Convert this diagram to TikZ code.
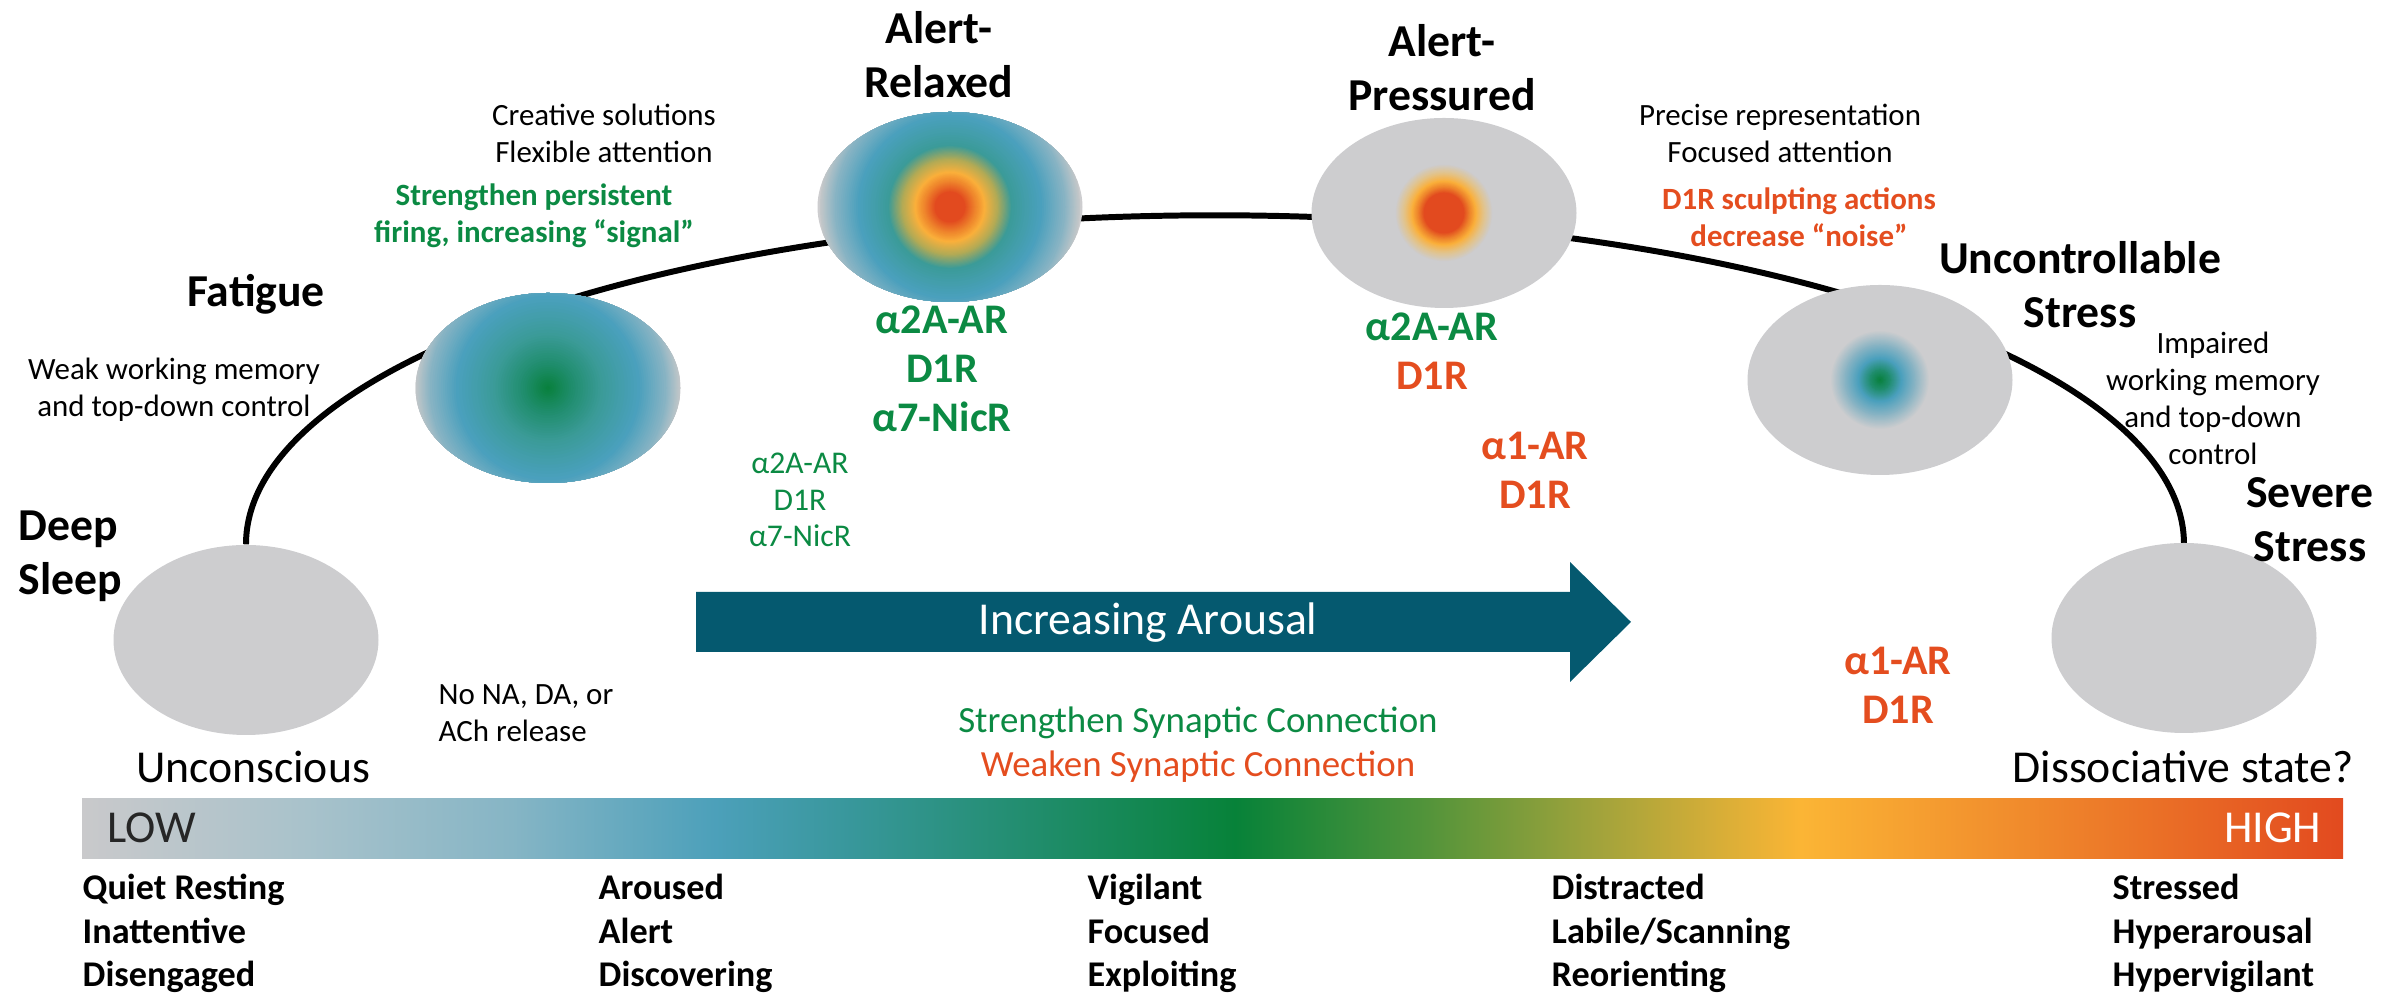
\documentclass[tikz,border=0pt]{standalone}
\usepackage{fontspec}
\setmainfont{Carlito}
\usetikzlibrary{shapes.geometric, backgrounds}

% text and shape colours
\definecolor{cgreen}{HTML}{0B8A43}
\definecolor{corange}{HTML}{E44D1F}
\definecolor{cgrey}{HTML}{CDCDCF}
\definecolor{carrow}{HTML}{05596F}
% gradient colours
\definecolor{sgreen}{HTML}{07803A}
\definecolor{sgteal}{HTML}{1F8D6C}
\definecolor{steal}{HTML}{3B9B98}
\definecolor{sblue}{HTML}{4AA0BD}
\definecolor{sbgrey}{HTML}{86B3C3}
\definecolor{sedge}{HTML}{C3C7C9}
\definecolor{sred}{HTML}{E24A1F}
\definecolor{sorange}{HTML}{F08A2D}
\definecolor{syellow}{HTML}{FBB03B}
\definecolor{solive}{HTML}{B3AA55}
\definecolor{sfade}{HTML}{E3C389}
\definecolor{bar0}{HTML}{C9C9CB}
\definecolor{bar1}{HTML}{A8C2CB}
\definecolor{bar2}{HTML}{86B5C5}
\definecolor{bar3}{HTML}{4CA0BA}
\definecolor{bar4}{HTML}{38979B}
\definecolor{bar5}{HTML}{078239}
\definecolor{bar6}{HTML}{4E933A}
\definecolor{bar7}{HTML}{A1A33B}
\definecolor{bar8}{HTML}{FBB535}
\definecolor{bar9}{HTML}{F08A2C}
\definecolor{bar10}{HTML}{E24A1F}

\pgfdeclarehorizontalshading{barsh}{100bp}{color(0bp)=(bar0); color(25bp)=(bar0); color(30bp)=(bar1); color(34.5bp)=(bar2); color(39bp)=(bar3); color(42bp)=(bar4); color(50.5bp)=(bar5); color(54.5bp)=(bar6); color(58.5bp)=(bar7); color(63bp)=(bar8); color(68bp)=(bar9); color(75bp)=(bar10); color(100bp)=(bar10)}

% one band of a radial gradient: centre, outer r, inner r, outer colour, inner colour
\newcommand{\ringseg}[5]{%
    \foreach \k in {0,...,12}{%
        \pgfmathsetmacro{\rr}{#2-(#2-#3)*\k/12}%
        \pgfmathtruncatemacro{\pp}{round(100*\k/12)}%
        \fill[#5!\pp!#4] (#1) circle[radius=\rr];
    }}
% list of bands: rout/cout/rin/cin, outermost first
\newcommand{\radfill}[1]{%
    \foreach \ro/\co/\ri/\ci in {#1}{\ringseg{path picture bounding box.center}{\ro}{\ri}{\co}{\ci}}}

\begin{document}
\begin{tikzpicture}[x=0.1mm, y=-0.1mm,
    blob/.style={ellipse, fill=cgrey, minimum width=26.5mm, minimum height=19mm, inner sep=0pt},
    statelbl/.style={font=\fontsize{13}{15.6}\selectfont\bfseries, align=center, anchor=base, inner sep=0pt},
    bigtxt/.style={font=\fontsize{13}{15.6}\selectfont, anchor=base, inner sep=0pt},
    smalltxt/.style={font=\fontsize{8.8}{10.8}\selectfont, align=center, anchor=base, inner sep=0pt},
    rcpt/.style={font=\fontsize{12}{14}\selectfont\bfseries, align=center, anchor=base, inner sep=0pt},
    scalelbl/.style={font=\fontsize{10.3}{12.4}\selectfont\bfseries, align=left, anchor=base west, inner sep=0pt}]
    \useasboundingbox (0,0) rectangle (2381,1002);
    % note: multi-line nodes sit on the baseline of their last line

    %---------------- States ----------------%
    \node[blob] (deep) at (246,640) {};
    \node[blob, path picture={\radfill{133/sedge/118/sbgrey, 118/sbgrey/92/sblue, 92/sblue/55/steal, 55/steal/25/sgteal, 25/sgteal/0/sgreen}}] (fatigue) at (548,388) {};
    \node[blob, path picture={\radfill{130/sedge/115/sbgrey, 115/sbgrey/92/sblue, 92/sblue/62/steal, 62/steal/48/solive, 48/solive/35/syellow, 35/syellow/27/sorange, 27/sorange/15/sred, 15/sred/0/sred}}] (relaxed) at (950,207) {};
    \node[blob, path picture={\radfill{49/cgrey/40/sfade, 40/sfade/32/syellow, 32/syellow/27/sorange, 27/sorange/20/sred, 20/sred/0/sred}}] (pressured) at (1444,213) {};
    \node[blob, path picture={\radfill{50/cgrey/35/sbgrey, 35/sbgrey/22/sblue, 22/sblue/10/sgteal, 10/sgteal/0/sgreen}}] (uncontrol) at (1880,380) {};
    \node[blob] (severe) at (2184,638) {};

    % the arousal curve behind the states
    \begin{scope}[on background layer]
        \draw[line width=1.7pt] (deep.north) arc[start angle=180, end angle=360, x radius=969, y radius=329];
    \end{scope}

    \node[statelbl, align=left, anchor=base west] (deeplbl) at (18,595) {Deep\\Sleep};
    \node[statelbl] (fatiguelbl) at (256,307) {Fatigue};
    \node[statelbl] (relaxedlbl) at (939,98) {Alert-\\Relaxed};
    \node[statelbl] (pressuredlbl) at (1442,111) {Alert-\\Pressured};
    \node[statelbl] (uncontrollbl) at (2080,328) {Uncontrollable\\Stress};
    \node[statelbl] (severelbl) at (2310,562) {Severe\\Stress};

    %---------------- Notes ----------------%
    \node[smalltxt] (weak) at (174,417) {Weak working memory\\and top-down control};
    \node[smalltxt] (creative) at (604,163) {Creative solutions\\Flexible attention};
    \node[smalltxt, text=cgreen, font=\fontsize{8.8}{10.8}\selectfont\bfseries] (signal) at (534,243) {Strengthen persistent\\firing, increasing “signal”};
    \node[smalltxt] (precise) at (1780,163) {Precise representation\\Focused attention};
    \node[smalltxt, text=corange, font=\fontsize{8.8}{10.8}\selectfont\bfseries] (noise) at (1799,247) {D1R sculpting actions\\decrease “noise”};
    \node[smalltxt, font=\fontsize{8.8}{10.6}\selectfont] (impaired) at (2213,465) {Impaired\\working memory\\and top-down\\control};
    \node[smalltxt, align=left, anchor=base west] (nona) at (438,742) {No NA, DA, or\\ACh release};

    % receptors
    \node[rcpt, text=cgreen] (relaxedrc) at (942,432) {α2A-AR\\D1R\\α7-NicR};
    \node[smalltxt, text=cgreen, font=\fontsize{9}{10.5}\selectfont] (fatiguerc) at (800,547) {α2A-AR\\D1R\\α7-NicR};
    \node[rcpt] (pressuredrc) at (1432,390) {\textcolor{cgreen}{α2A-AR}\\\textcolor{corange}{D1R}};
    \node[rcpt, text=corange] (uncontrolrc) at (1535,509) {α1-AR\\D1R};
    \node[rcpt, text=corange] (severerc) at (1898,724) {α1-AR\\D1R};

    \node[bigtxt] (uncons) at (253,783) {Unconscious};
    \node[bigtxt] (dissoc) at (2183,783) {Dissociative state?};

    %---------------- Arousal arrow ----------------%
    \fill[carrow] (696,592) -- (1570,592) -- (1570,562) -- (1631,622) -- (1570,682) -- (1570,652) -- (696,652) -- cycle;
    \node[bigtxt, text=white] (arousal) at (1148,635) {Increasing Arousal};
    \node[smalltxt, font=\fontsize{10.5}{12.8}\selectfont] (synapse) at (1198,777) {\textcolor{cgreen}{Strengthen Synaptic Connection}\\\textcolor{corange}{Weaken Synaptic Connection}};

    %---------------- Scale bar ----------------%
    \shade[shading=barsh] (82,799) rectangle (2343,859);
    \node[bigtxt, anchor=base west, text=black!85] (low) at (107,843) {LOW};
    \node[bigtxt, anchor=base east, text=white] (high) at (2322,843) {HIGH};

    \node[scalelbl] (col1) at (82,987) {Quiet Resting\\Inattentive\\Disengaged};
    \node[scalelbl] (col2) at (598,987) {Aroused\\Alert\\Discovering};
    \node[scalelbl] (col3) at (1087,987) {Vigilant\\Focused\\Exploiting};
    \node[scalelbl] (col4) at (1551,987) {Distracted\\Labile/Scanning\\Reorienting};
    \node[scalelbl] (col5) at (2112,987) {Stressed\\Hyperarousal\\Hypervigilant};
\end{tikzpicture}
\end{document}
